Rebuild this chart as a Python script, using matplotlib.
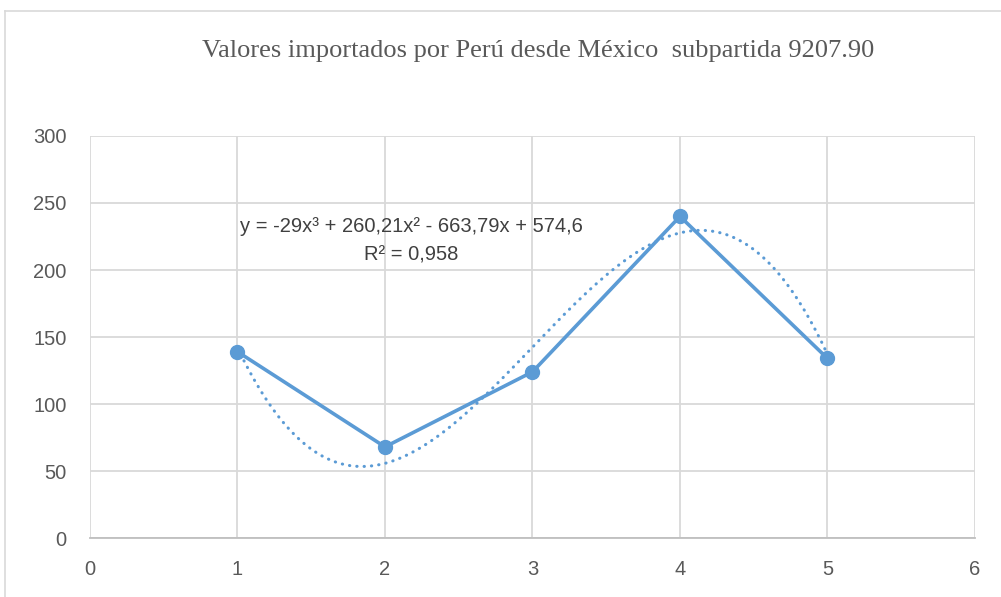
import numpy as np
import matplotlib.pyplot as plt
from matplotlib.lines import Line2D

# data
x_vals = [1, 2, 3, 4, 5]
y_vals = [139, 68, 124, 240, 134]
x_ticks = [0, 1, 2, 3, 4, 5, 6]
y_ticks = [0, 50, 100, 150, 200, 250, 300]

title = "Valores importados por Perú desde México  subpartida 9207.90"
eq_text = "y = -29x³ + 260,21x² - 663,79x + 574,6"
r2_text = "R² = 0,958"

blue = "#5B9BD5"
grid = "#D9D9D9"
txt = "#595959"

fig = plt.figure(figsize=(10.01, 5.97), dpi=100)
ax = fig.add_axes([0.0899, 0.0988, 0.8841, 0.6734])

# polynomial trendline (order 3), fitted from the points
coef = np.polyfit(x_vals, y_vals, 3)
xs = np.linspace(1, 5, 200)
ax.plot(xs, np.polyval(coef, xs), color=blue, lw=2.2, ls=(0, (0.1, 2.3)),
        dash_capstyle="round", zorder=2)

ax.plot(x_vals, y_vals, color=blue, lw=2.6, marker="o", ms=10, zorder=3)

ax.set_xlim(0, 6)
ax.set_ylim(0, 300)
ax.set_xticks(x_ticks)
ax.set_yticks(y_ticks)
ax.grid(True, color=grid, lw=1.3)
ax.set_axisbelow(True)
for s in ["left", "right", "top"]:
    ax.spines[s].set_visible(False)
ax.spines["bottom"].set_color("#BFBFBF")
ax.spines["bottom"].set_linewidth(1.3)
ax.tick_params(length=0, labelsize=14.5, colors=txt)
ax.tick_params(axis="x", pad=16)
ax.tick_params(axis="y", pad=17)
for lab in ax.get_xticklabels() + ax.get_yticklabels():
    lab.set_fontfamily("Liberation Sans")

ax.text(2.18, 232.5, eq_text, ha="center", va="center", fontsize=14.5,
        color="#404040", family="Liberation Sans")
ax.text(2.18, 211, r2_text, ha="center", va="center", fontsize=14.5,
        color="#404040", family="Liberation Sans")

fig.text(0.538, 0.915, title, ha="center", va="center", fontsize=19,
         color=txt, family="Liberation Serif")

# outer chart frame (left and top edges visible)
fig.add_artist(Line2D([0.005, 0.005], [0, 0.9816], color=grid, lw=1.2))
fig.add_artist(Line2D([0.005, 1], [0.9816, 0.9816], color=grid, lw=1.2))

fig.savefig("out.png", dpi=100)
